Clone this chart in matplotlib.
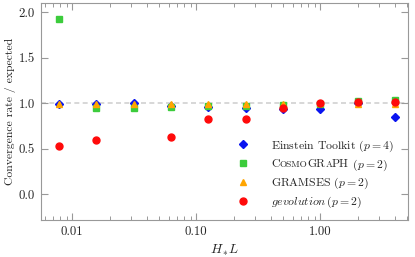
import numpy as np
import matplotlib
matplotlib.use("Agg")
import matplotlib.pyplot as plt
from matplotlib.offsetbox import TextArea, HPacker
from matplotlib.ticker import FormatStrFormatter, LogLocator

plt.rcParams['font.family'] = 'serif'
plt.rcParams['font.serif'] = ['cmr10']
plt.rcParams['mathtext.fontset'] = 'cm'
plt.rcParams['axes.formatter.use_mathtext'] = True

# H_* L values (2^-7 ... 2^2)
hl = [0.0078125, 0.015625, 0.03125, 0.0625, 0.125, 0.25, 0.5, 1.0, 2.0, 4.0]

einstein = [0.99, 0.99, 1.00, 0.97, 0.96, 0.95, 0.94, 0.94, 1.00, 0.85]
cosmograph = [1.93, 0.95, 0.95, 0.96, 0.965, 0.965, 0.975, 0.99, 1.02, 1.03]
gramses = [0.99, 0.99, 0.99, 0.99, 0.99, 0.99, 0.99, 1.00, 0.99, 0.99]
gevolution = [0.53, 0.595, np.nan, 0.63, 0.82, 0.83, 0.95, 1.00, 1.01, 1.01]

fs = 9.2
lfs = 8.5
fig = plt.figure(figsize=(4.15, 2.57), dpi=100)
ax = fig.add_axes([0.099, 0.144, 0.884, 0.844])

ax.axhline(1.0, color='0.82', ls=(0, (3, 2)), lw=1.2, zorder=1)
ax.plot(hl, einstein, 'D', color='#0a14f0', ms=4.3, ls='none', label=r'Einstein Toolkit ($p=4$)', zorder=3)
ax.plot(hl, cosmograph, 's', color='#3ccc3c', ms=5, ls='none', label='CosmoGRaPH', zorder=3)
ax.plot(hl, gramses, '^', color='#ffa500', ms=5, ls='none', label=r'GRAMSES ($p=2$)', zorder=3)
ax.plot(hl, gevolution, 'o', color='#ff0a0a', ms=5, ls='none', label=r'$\mathit{gevolution}\,(p=2)$', zorder=3)

ax.set_xscale('log')
ax.set_xlim(0.0056, 5.1)
ax.set_ylim(-0.285, 2.1)
ax.set_yticks([0.0, 0.5, 1.0, 1.5, 2.0])
ax.xaxis.set_major_formatter(FormatStrFormatter('%.2f'))
ax.yaxis.set_major_formatter(FormatStrFormatter('%.1f'))
ax.xaxis.set_minor_locator(LogLocator(base=10, subs=np.arange(2, 10)))

for s in ax.spines.values():
    s.set_color('0.6')
ax.tick_params(which='both', direction='in', top=True, right=True, colors='0.6', labelcolor='0.15', labelsize=fs)
ax.tick_params(which='major', length=5, width=0.8, pad=4.5)
ax.tick_params(which='minor', length=3, width=0.7)

ax.set_xlabel(r'$H_*\!L$', fontsize=fs + 0.5, color='0.15', labelpad=3)
ax.set_ylabel('Convergence rate / expected', fontsize=8.4, color='0.15', labelpad=2)

leg = ax.legend(loc='lower right', frameon=False, fontsize=lfs, handletextpad=1.4,
                labelspacing=0.3, borderpad=0, borderaxespad=0,
                bbox_to_anchor=(0.962, 0.045))
for t in leg.get_texts():
    t.set_color('0.15')

# fake small caps for CosmoGRaPH
small = lfs * 0.78
parts = [('C', lfs), ('OSMO', small), ('GR', lfs), ('A', small), ('PH', lfs), (r' ($p=2$)', lfs)]
areas = [TextArea(p, textprops=dict(size=sz, color='0.15', family='serif')) for p, sz in parts]
sc = HPacker(children=areas, align='baseline', pad=0, sep=0)
sc.set_figure(fig)
for a in areas:
    a.set_figure(fig)
    a._text.set_figure(fig)
col = leg._legend_handle_box.get_children()[0]
row = col.get_children()[1]
row._children[1] = sc

fig.savefig('out.png', dpi=100)
